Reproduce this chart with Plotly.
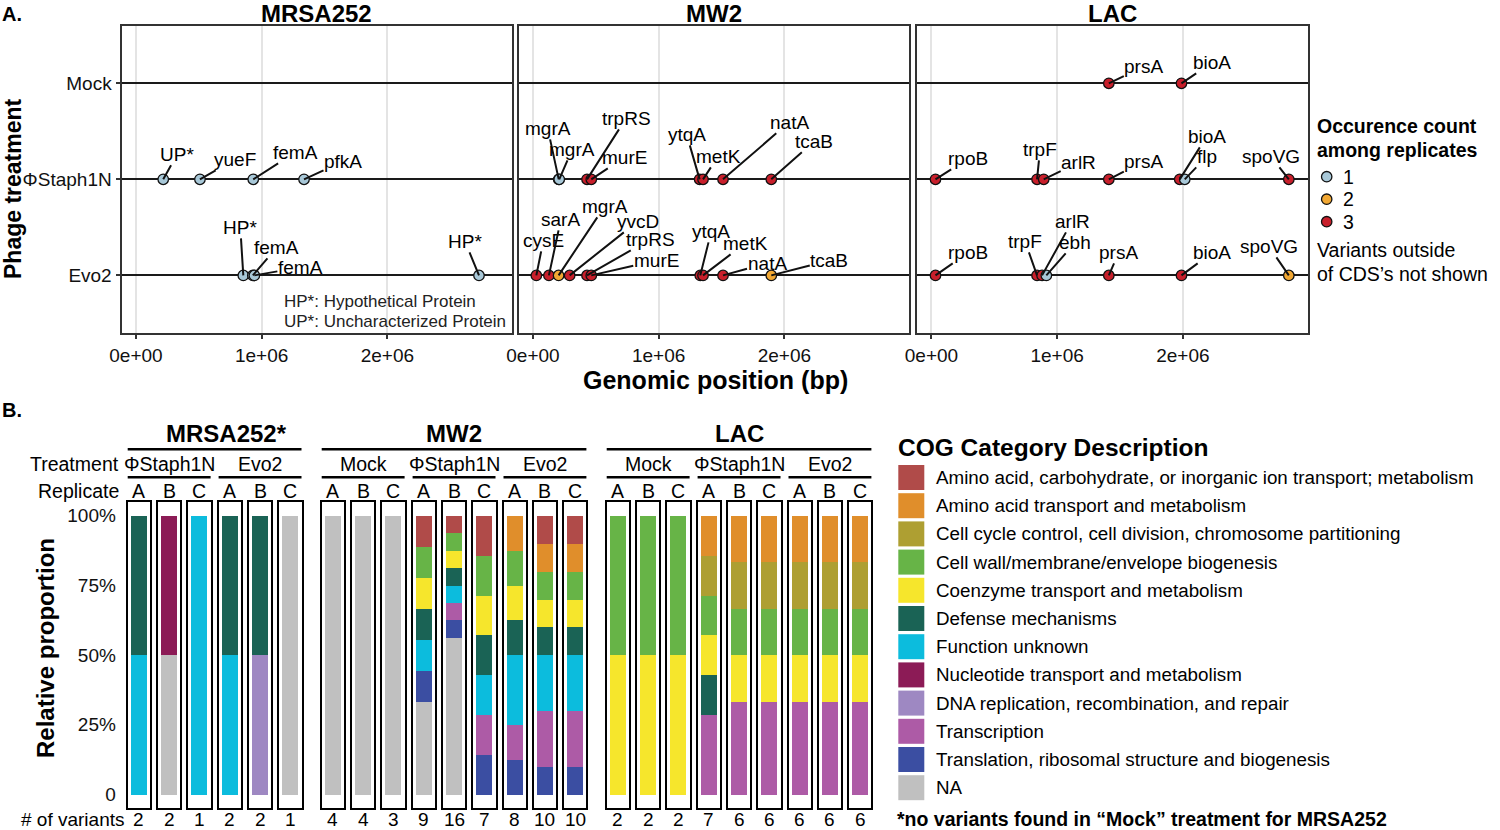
import plotly.graph_objects as go

# ====================== DATA ======================
# ---- Panel A: variant positions ----
strains = ["MRSA252", "MW2", "LAC"]
treatment_labels = ["Evo2", "ΦStaph1N", "Mock"]          # bottom -> top
x_tick_values = [0, 1000000, 2000000]
x_tick_labels = ["0e+00", "1e+06", "2e+06"]
count_levels = [1, 2, 3]
count_colors = ["#a8c8d8", "#f2a833", "#c81f2b"]

var_strain = (["MRSA252"] * 8) + (["MW2"] * 18) + (["LAC"] * 16)
var_treatment = (["ΦStaph1N"] * 4 + ["Evo2"] * 4
                 + ["ΦStaph1N"] * 8 + ["Evo2"] * 10
                 + ["Mock"] * 2 + ["ΦStaph1N"] * 7 + ["Evo2"] * 7)
var_gene = ["UP*", "yueF", "femA", "pfkA",
            "HP*", "femA", "femA", "HP*",
            "mgrA", "mgrA", "trpRS", "murE", "ytqA", "metK", "natA", "tcaB",
            "cysE", "sarA", "mgrA", "yvcD", "trpRS", "murE", "ytqA", "metK", "natA", "tcaB",
            "prsA", "bioA",
            "rpoB", "trpF", "arlR", "prsA", "bioA", "flp", "spoVG",
            "rpoB", "trpF", "arlR", "ebh", "prsA", "bioA", "spoVG"]
var_position = [217000, 509000, 933000, 1337000,
                854000, 930000, 942000, 2729000,
                205000, 209000, 430000, 464000, 1326000, 1353000, 1512000, 1896000,
                27000, 127000, 204000, 292000, 430000, 464000, 1331000, 1353000, 1512000, 1896000,
                1411000, 1989000,
                32000, 840000, 893000, 1411000, 1975000, 2015000, 2843000,
                32000, 840000, 880000, 914000, 1411000, 1989000, 2843000]
var_count = [1, 1, 1, 1,
             1, 1, 1, 1,
             1, 1, 3, 3, 3, 3, 3, 3,
             3, 3, 2, 3, 3, 3, 3, 3, 3, 2,
             3, 3,
             3, 3, 3, 3, 3, 1, 3,
             3, 3, 3, 1, 3, 3, 2]

# ---- Panel B: COG category counts per replicate ----
cog_labels = ["Amino acid, carbohydrate, or inorganic ion transport; metabolism",
              "Amino acid transport and metabolism",
              "Cell cycle control, cell division, chromosome partitioning",
              "Cell wall/membrane/envelope biogenesis",
              "Coenzyme transport and metabolism",
              "Defense mechanisms",
              "Function unknown",
              "Nucleotide transport and metabolism",
              "DNA replication, recombination, and repair",
              "Transcription",
              "Translation, ribosomal structure and biogenesis",
              "NA"]
cog_colors = ["#b04b49", "#e08e2b", "#ae9f32", "#67b447", "#f6e62c", "#1a6355",
              "#0cbcdd", "#8c1b56", "#9e88c2", "#ad5ba6", "#3b4ea2", "#c0c0c0"]

b_strain = ["MRSA252"] * 6 + ["MW2"] * 9 + ["LAC"] * 9
b_strain_titles = ["MRSA252*", "MW2", "LAC"]
b_treatment = (["ΦStaph1N"] * 3 + ["Evo2"] * 3
               + ["Mock"] * 3 + ["ΦStaph1N"] * 3 + ["Evo2"] * 3
               + ["Mock"] * 3 + ["ΦStaph1N"] * 3 + ["Evo2"] * 3)
b_replicate = ["A", "B", "C"] * 8
y_tick_values_b = [0, 0.25, 0.5, 0.75, 1]
y_tick_labels_b = ["0", "25%", "50%", "75%", "100%"]

cog_counts = [
    [0, 0, 0, 0, 0, 0,  0, 0, 0, 1, 1, 1, 0, 1, 1,  0, 0, 0, 0, 0, 0, 0, 0, 0],  # AA carb
    [0, 0, 0, 0, 0, 0,  0, 0, 0, 0, 0, 0, 1, 1, 1,  0, 0, 0, 1, 1, 1, 1, 1, 1],  # AA transport
    [0, 0, 0, 0, 0, 0,  0, 0, 0, 0, 0, 0, 0, 0, 0,  0, 0, 0, 1, 1, 1, 1, 1, 1],  # cell cycle
    [0, 0, 0, 0, 0, 0,  0, 0, 0, 1, 1, 1, 1, 1, 1,  1, 1, 1, 1, 1, 1, 1, 1, 1],  # cell wall
    [0, 0, 0, 0, 0, 0,  0, 0, 0, 1, 1, 1, 1, 1, 1,  1, 1, 1, 1, 1, 1, 1, 1, 1],  # coenzyme
    [1, 0, 0, 1, 1, 0,  0, 0, 0, 1, 1, 1, 1, 1, 1,  0, 0, 0, 1, 0, 0, 0, 0, 0],  # defense
    [1, 0, 1, 1, 0, 0,  0, 0, 0, 1, 1, 1, 2, 2, 2,  0, 0, 0, 0, 0, 0, 0, 0, 0],  # function unknown
    [0, 1, 0, 0, 0, 0,  0, 0, 0, 0, 0, 0, 0, 0, 0,  0, 0, 0, 0, 0, 0, 0, 0, 0],  # nucleotide
    [0, 0, 0, 0, 1, 0,  0, 0, 0, 0, 0, 0, 0, 0, 0,  0, 0, 0, 0, 0, 0, 0, 0, 0],  # DNA replication
    [0, 0, 0, 0, 0, 0,  0, 0, 0, 0, 1, 1, 1, 2, 2,  0, 0, 0, 2, 2, 2, 2, 2, 2],  # transcription
    [0, 0, 0, 0, 0, 0,  0, 0, 0, 1, 1, 1, 1, 1, 1,  0, 0, 0, 0, 0, 0, 0, 0, 0],  # translation
    [0, 1, 0, 0, 0, 1,  4, 4, 3, 3, 9, 0, 0, 0, 0,  0, 0, 0, 0, 0, 0, 0, 0, 0],  # NA
]

# ====================== STYLE / GEOMETRY ======================
W, H = 1500, 830
FONT = "Liberation Sans, Arial, sans-serif"
TXT = "#111111"

# label offsets (pixels) for variant labels
label_dx = [14, 35, 42, 39,
            -3, 24, 46, -14,
            -11, 13, 39, 33, -13, 15, 66, 43,
            7, 12, 46, 68, 63, 65, 11, 42, 44, 58,
            35, 31,
            33, 3, 35, 35, 27, 22, -18,
            33, -12, 30, 29, 10, 31, -20]
label_dy = [-25, -20, -27, -18,
            -48, -28, -8, -34,
            -51, -30, -61, -22, -45, -23, -57, -38,
            -35, -56, -69, -54, -36, -15, -44, -32, -12, -15,
            -17, -21,
            -21, -30, -17, -18, -43, -23, -23,
            -23, -34, -54, -33, -23, -23, -29]


def px(x):
    return x / W


def py(y):
    return 1 - y / H


fig = go.Figure()
layout = {}
annotations = []
shapes = []


def note(text, x, y, size=19.5, xanchor="center", bold=False, angle=0, color="#000"):
    if bold:
        text = f"<b>{text}</b>"
    annotations.append(dict(text=text, x=px(x), y=py(y), xref="paper", yref="paper",
                            showarrow=False, xanchor=xanchor, yanchor="middle",
                            textangle=angle, borderpad=0,
                            font=dict(size=size, color=color, family=FONT)))


def axkey(letter, k):
    return f"{letter}axis" if k == 1 else f"{letter}axis{k}"


def axref(letter, k):
    return letter if k == 1 else f"{letter}{k}"


# ---------------- Panel A ----------------
A_left = [121.5, 518.5, 917.0]
A_width = 390.5
A_top, A_bottom = 25.7, 333.0
px_per_bp = 125.7 / 1e6
x_lo = -115000
x_hi = x_lo + A_width / px_per_bp
tr_level = {t: i + 1 for i, t in enumerate(treatment_labels)}

for s, strain in enumerate(strains):
    k = s + 1
    layout[axkey("x", k)] = dict(
        domain=[px(A_left[s]), px(A_left[s] + A_width)], range=[x_lo, x_hi],
        tickvals=x_tick_values, ticktext=x_tick_labels, automargin=False,
        showgrid=True, gridcolor="#e4e4e4", gridwidth=1.5, zeroline=False,
        showline=True, mirror=True, linecolor="#333333", linewidth=2,
        ticks="outside", ticklen=4, tickwidth=1.5, tickcolor="#333333",
        tickfont=dict(size=19, color=TXT, family=FONT), anchor=axref("y", k))
    layout[axkey("y", k)] = dict(
        domain=[py(A_bottom), py(A_top)], range=[0.4, 3.6], automargin=False,
        tickvals=[1, 2, 3], ticktext=treatment_labels, showticklabels=(s == 0),
        showgrid=True, gridcolor="#1a1a1a", gridwidth=2, zeroline=False,
        showline=True, mirror=True, linecolor="#333333", linewidth=2,
        ticks="outside" if s == 0 else "", ticklen=4, tickwidth=1.5, tickcolor="#333333",
        tickfont=dict(size=19, color=TXT, family=FONT), anchor=axref("x", k))
    note(strain, A_left[s] + A_width / 2, 13.5, size=24, bold=True)
    for c in [3, 2, 1]:
        idx = [i for i in range(len(var_gene)) if var_strain[i] == strain and var_count[i] == c]
        if not idx:
            continue
        fig.add_trace(go.Scatter(
            x=[var_position[i] for i in idx], y=[tr_level[var_treatment[i]] for i in idx],
            mode="markers", showlegend=False, hoverinfo="skip",
            marker=dict(size=10.5, color=count_colors[c - 1], line=dict(color="#111", width=1.3)),
            xaxis=axref("x", k), yaxis=axref("y", k)))
    for i in range(len(var_gene)):
        if var_strain[i] != strain:
            continue
        annotations.append(dict(
            text=var_gene[i], x=var_position[i], y=tr_level[var_treatment[i]],
            xref=axref("x", k), yref=axref("y", k), ax=label_dx[i], ay=label_dy[i],
            xanchor="center", yanchor="middle",
            showarrow=True, arrowhead=0, arrowwidth=2, arrowcolor="#111", standoff=0,
            borderpad=0, font=dict(size=19, color="#000", family=FONT)))

# note inside MRSA252 panel
note("HP*: Hypothetical Protein", 283, 301, size=17, xanchor="left", color="#222")
note("UP*: Uncharacterized Protein", 283, 321.5, size=17, xanchor="left", color="#222")
# axis titles / panel tags
note("Genomic position (bp)", 715, 380, size=25, bold=True)
note("Phage treatment", 13, 189, size=23, bold=True, angle=-90)
note("A.", 1, 13.5, size=20, bold=True, xanchor="left")
note("B.", 1, 410, size=20, bold=True, xanchor="left")

# legend A (occurrence count)
note("Occurence count", 1316, 126, bold=True, xanchor="left")
note("among replicates", 1316, 150, bold=True, xanchor="left")
for j, c in enumerate(count_levels):
    yc = 176.7 + j * 22.5
    shapes.append(dict(type="circle", xref="paper", yref="paper", xsizemode="pixel",
                       ysizemode="pixel", xanchor=px(1326.7), yanchor=py(yc),
                       x0=-5.2, x1=5.2, y0=-5.2, y1=5.2, fillcolor=count_colors[j],
                       line=dict(color="#111", width=1.3)))
    note(str(c), 1342, yc, xanchor="left")
note("Variants outside", 1316, 250, xanchor="left")
note("of CDS’s not shown", 1316, 273.5, xanchor="left")

# ---------------- Panel B ----------------
B_group_left = {"MRSA252": 127.7, "MW2": 321.7, "LAC": 606.7}
B_pitch = 30.3
B_box_w = 22.3
B_top, B_bottom = 501.7, 808.3
stack_order = list(range(len(cog_labels)))[::-1]   # NA at bottom, first category on top

box_left = []
for p in range(len(b_strain)):
    first = b_strain.index(b_strain[p])
    box_left.append(B_group_left[b_strain[p]] + (p - first) * B_pitch)

for p in range(len(b_strain)):
    k = 4 + p
    total = sum(cog_counts[c][p] for c in range(len(cog_labels)))
    layout[axkey("x", k)] = dict(
        domain=[px(box_left[p]), px(box_left[p] + B_box_w)], range=[-0.6, 0.6],
        showticklabels=False, showgrid=False, zeroline=False, ticks="", automargin=False,
        showline=True, mirror=True, linecolor="#000", linewidth=2, anchor=axref("y", k))
    layout[axkey("y", k)] = dict(
        domain=[py(B_bottom), py(B_top)], range=[-0.05, 1.05], automargin=False,
        tickvals=y_tick_values_b, ticktext=y_tick_labels_b, showticklabels=(p == 0),
        showgrid=False, zeroline=False, ticks="", ticklabelstandoff=6,
        showline=True, mirror=True, linecolor="#000", linewidth=2,
        tickfont=dict(size=19, color=TXT, family=FONT), anchor=axref("x", k))
    for c in stack_order:
        if cog_counts[c][p] > 0:
            fig.add_trace(go.Bar(
                x=[0], y=[cog_counts[c][p] / total], width=0.85,
                marker=dict(color=cog_colors[c], line=dict(width=0)),
                showlegend=False, hoverinfo="skip",
                xaxis=axref("x", k), yaxis=axref("y", k)))
    cx = box_left[p] + B_box_w / 2
    note(b_replicate[p], cx, 491)
    note(str(total), cx, 819.5, size=19)

# strain headers and treatment headers
for g, strain in enumerate(strains):
    members = [p for p in range(len(b_strain)) if b_strain[p] == strain]
    x0 = box_left[members[0]]
    x1 = box_left[members[-1]] + B_box_w
    shapes.append(dict(type="line", xref="paper", yref="paper", x0=px(x0), x1=px(x1),
                       y0=py(449.3), y1=py(449.3), line=dict(color="#000", width=2.5)))
    shift = 12 if b_strain_titles[g].endswith("*") else 0
    note(b_strain_titles[g], (x0 + x1) / 2 + shift, 433, size=24, bold=True)
    seen = []
    for p in members:
        if b_treatment[p] not in seen:
            seen.append(b_treatment[p])
    for t in seen:
        tm = [p for p in members if b_treatment[p] == t]
        t0 = box_left[tm[0]]
        t1 = box_left[tm[-1]] + B_box_w
        shapes.append(dict(type="line", xref="paper", yref="paper", x0=px(t0), x1=px(t1),
                           y0=py(477.3), y1=py(477.3), line=dict(color="#000", width=2.5)))
        note(t, (t0 + t1) / 2, 463.5)

note("Treatment", 120, 463.5, xanchor="right")
note("Replicate", 120, 491, xanchor="right")
note("# of variants", 126, 819.5, size=19, xanchor="right")
note("Relative proportion", 45, 648, size=24, bold=True, angle=-90)

# COG legend
note("COG Category Description", 897, 447, size=24.5, bold=True, xanchor="left")
for c, lab in enumerate(cog_labels):
    yc = 477.5 + c * 28.2
    shapes.append(dict(type="rect", xref="paper", yref="paper", x0=px(898.3), x1=px(924.3),
                       y0=py(yc - 12.5), y1=py(yc + 12.5), fillcolor=cog_colors[c],
                       line=dict(width=0)))
    note(lab, 935, yc, size=18.8, xanchor="left")
note("*no variants found in “Mock” treatment for MRSA252", 896, 818.5, size=19.5, bold=True,
     xanchor="left")

fig.update_layout(
    template="none",
    width=W, height=H, margin=dict(l=0, r=0, t=0, b=0, autoexpand=False),
    paper_bgcolor="white", plot_bgcolor="white", barmode="stack", bargap=0,
    font=dict(family=FONT, color="#000"), showlegend=False,
    annotations=annotations, shapes=shapes, **layout)

fig.write_html("out.html", config={"displayModeBar": False},
               post_script="document.body.style.margin='0';document.body.style.overflow='hidden';")
